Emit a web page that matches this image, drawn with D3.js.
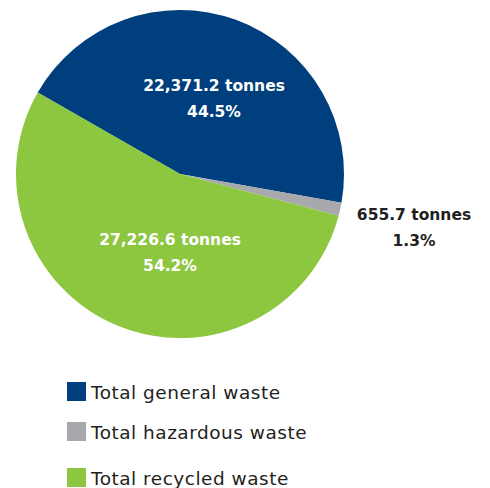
<!DOCTYPE html>
<html>
<head>
<meta charset="utf-8">
<script src="https://cdn.jsdelivr.net/npm/d3@7"></script>
<style>
  body { margin: 0; background: #fff; }
</style>
</head>
<body>
<div id="chart"></div>
<script>
// waste data
const categories = ["Total general waste", "Total hazardous waste", "Total recycled waste"];
const tonnes = [22371.2, 655.7, 27226.6];
const tonneLabels = ["22,371.2 tonnes", "655.7 tonnes", "27,226.6 tonnes"];
const percentLabels = ["44.5%", "1.3%", "54.2%"];
const colors = ["#003f7d", "#a7a9ac", "#8dc63f"];

const width = 490, height = 488;
const cx = 180, cy = 174, radius = 164;

const svg = d3.select("#chart")
  .append("svg")
  .attr("width", width)
  .attr("height", height);

const data = categories.map((c, i) => ({ name: c, value: tonnes[i], i: i }));

// start angle so the blue slice begins upper-left
const pie = d3.pie()
  .sort(null)
  .value(d => d.value)
  .startAngle(-60.2 * Math.PI / 180)
  .endAngle((360 - 60.2) * Math.PI / 180);

const arcs = pie(data);
const arc = d3.arc().innerRadius(0).outerRadius(radius);

const g = svg.append("g").attr("transform", `translate(${cx},${cy})`);

g.selectAll("path")
  .data(arcs)
  .enter()
  .append("path")
  .attr("d", arc)
  .attr("fill", d => colors[d.data.i]);

// label anchor points
const labelPos = [
  { x: 214, y: 91 },
  { x: 414, y: 220 },
  { x: 170, y: 245 }
];

const labels = svg.append("g")
  .attr("font-family", "'DejaVu Sans', sans-serif")
  .attr("font-weight", 700)
  .attr("font-size", 15.5)
  .attr("text-anchor", "middle");

arcs.forEach(function (d, i) {
  const p = labelPos[i];
  const fill = i === 1 ? "#231f20" : "#fff";
  labels.append("text")
    .attr("x", p.x).attr("y", p.y)
    .attr("fill", fill)
    .text(tonneLabels[i]);
  labels.append("text")
    .attr("x", p.x).attr("y", p.y + 26)
    .attr("fill", fill)
    .text(percentLabels[i]);
});

// legend
const legendY = [382, 422, 468];
const legend = svg.append("g")
  .attr("font-family", "'DejaVu Sans', sans-serif")
  .attr("font-size", 18.5)
  .attr("letter-spacing", 0.5)
  .attr("fill", "#231f20");

categories.forEach(function (c, i) {
  legend.append("rect")
    .attr("x", 67).attr("y", legendY[i])
    .attr("width", 19).attr("height", 19)
    .attr("fill", colors[i]);
  legend.append("text")
    .attr("x", 91).attr("y", legendY[i] + 17)
    .text(c);
});
</script>
</body>
</html>
